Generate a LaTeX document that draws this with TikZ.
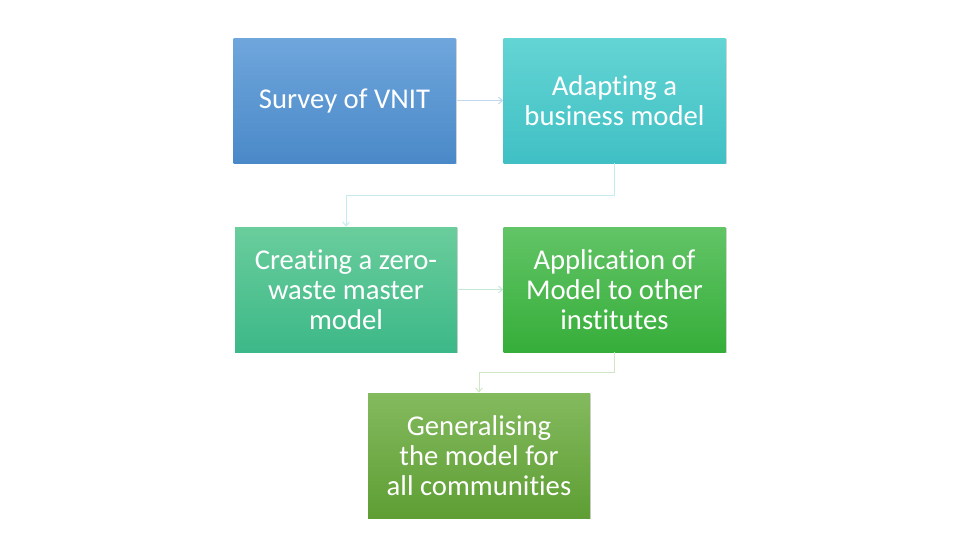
\documentclass[tikz,border=0pt]{standalone}
\usepackage{fontspec}
\setmainfont{Carlito}[Ligatures={NoCommon}]
\usetikzlibrary{arrows.meta,shadows}
\definecolor{aT}{HTML}{6FA6DC}\definecolor{aB}{HTML}{4A89C8}
\definecolor{bT}{HTML}{64D4D4}\definecolor{bB}{HTML}{40C0C4}
\definecolor{cT}{HTML}{6ACD9C}\definecolor{cB}{HTML}{3DB888}
\definecolor{dT}{HTML}{62C466}\definecolor{dB}{HTML}{36AE3A}
\definecolor{eT}{HTML}{84BA5E}\definecolor{eB}{HTML}{5E9E34}
\definecolor{lA}{HTML}{C3D7EE}\definecolor{lB}{HTML}{C4ECEC}
\definecolor{lC}{HTML}{C4E8D4}\definecolor{lD}{HTML}{CFE6C4}
\tikzset{
  box/.style={minimum width=166.5pt, minimum height=93.75pt, inner sep=2pt,
    text=white, align=center, font=\fontsize{21.5}{22.3}\selectfont,
    drop shadow={opacity=0.35, shadow xshift=1pt, shadow yshift=-1pt}},
  link/.style={line width=0.75pt, -{Straight Barb[length=3pt,width=5pt]}}
}
\begin{document}
\begin{tikzpicture}[x=0.75pt,y=-0.75pt]
\useasboundingbox (0,0) rectangle (960,540);
\node[box, top color=aT, bottom color=aB] (s) at (344.5,100.5) {Survey of VNIT};
\node[box, top color=bT, bottom color=bB] (b) at (614.5,100.5) {Adapting a\\business model};
\node[box, top color=cT, bottom color=cB] (c) at (346,289.5) {Creating a zero-\\waste master\\model};
\node[box, top color=dT, bottom color=dB] (d) at (614.5,289.5) {Application of\\Model to other\\institutes};
\node[box, top color=eT, bottom color=eB] (e) at (479,455.5) {Generalising\\the model for\\all communities};
\draw[link, lA] (s) -- (b);
\draw[link, lB] (b.south) -- ++(0,32) -| (c.north);
\draw[link, lC] (c) -- (d);
\draw[link, lD] (d.south) -- ++(0,20) -| (e.north);
\end{tikzpicture}
\end{document}
